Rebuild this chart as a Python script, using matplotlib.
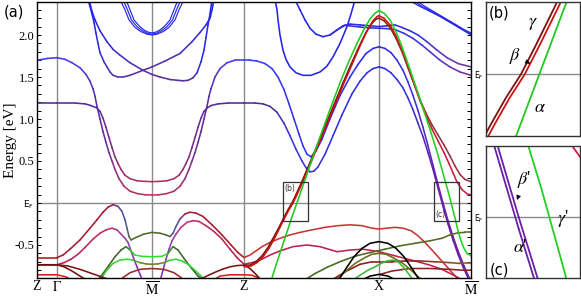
import numpy as np
import matplotlib
matplotlib.use('Agg')
import matplotlib.pyplot as plt
from matplotlib.collections import LineCollection
from matplotlib.colors import LinearSegmentedColormap
from matplotlib.patches import Rectangle
from matplotlib.ticker import MultipleLocator

plt.rcParams['font.family'] = ['Liberation Serif', 'DejaVu Serif']
plt.rcParams['mathtext.fontset'] = 'stix'

# k-path (arbitrary path units) and energy axis
k_pos = [37, 57, 152, 244, 379, 471]
k_lab = ['Z', r'$\Gamma$', r'$\overline{\mathrm{M}}$', 'Z', 'X', r'$\overline{\mathrm{M}}$']
e_ticks = [-0.5, 0.0, 0.5, 1.0, 1.5, 2.0]
e_labels = ['-0.5', r'E$_\mathregular{F}$', '0.5', '1.0', '1.5', '2.0']

# ---- conduction bands, Z-Gamma-M-Z ----
c1_gm_x = [37, 47, 57, 65, 72, 80, 86, 90, 93, 95, 97, 100, 103, 106, 109, 112, 115, 119, 124, 130, 138, 145, 152]
c1_gm_e = [1.70, 1.72, 1.73, 1.71, 1.67, 1.61, 1.53, 1.45, 1.36, 1.27, 1.15, 1.00, 0.85, 0.72, 0.60, 0.50, 0.40, 0.29, 0.20, 0.14, 0.11, 0.098, 0.095]
c2_gm_x = [37, 57, 75, 85, 91, 97, 100, 103, 106, 109, 112, 115, 118, 121, 125, 130, 137, 145, 152]
c2_gm_e = [1.19, 1.19, 1.19, 1.18, 1.16, 1.13, 1.09, 1.01, 0.90, 0.78, 0.66, 0.55, 0.47, 0.40, 0.33, 0.29, 0.265, 0.257, 0.254]
c1_mz_x = [152, 159, 166, 174, 180, 185, 189, 192, 195, 198, 201, 204, 207, 209, 211, 215, 220, 227, 235, 244]
c1_mz_e = [0.095, 0.098, 0.11, 0.14, 0.20, 0.29, 0.40, 0.50, 0.60, 0.72, 0.85, 1.00, 1.15, 1.27, 1.36, 1.50, 1.60, 1.67, 1.70, 1.70]
c2_mz_x = [152, 159, 167, 174, 179, 183, 186, 189, 192, 195, 198, 201, 204, 207, 211, 218, 228, 244]
c2_mz_e = [0.254, 0.257, 0.265, 0.29, 0.33, 0.40, 0.47, 0.55, 0.66, 0.78, 0.90, 1.01, 1.09, 1.13, 1.16, 1.18, 1.19, 1.19]

l1_x = [88, 90, 92, 94, 96, 98, 100, 104, 107, 110, 113, 118, 123, 130, 143, 152, 165, 180, 192, 200, 206, 210, 212, 214]
l1_e = [2.42, 2.34, 2.25, 2.15, 2.02, 1.90, 1.79, 1.68, 1.62, 1.56, 1.52, 1.50, 1.50, 1.52, 1.58, 1.62, 1.69, 1.78, 1.92, 2.03, 2.12, 2.20, 2.30, 2.42]
l2_x = [89, 92, 95, 100, 107, 113, 120, 130, 143, 152, 160, 170, 178, 183, 188, 193, 197, 201, 204, 206, 208, 210, 212]
l2_e = [2.42, 2.28, 2.18, 2.05, 1.92, 1.83, 1.76, 1.67, 1.58, 1.53, 1.50, 1.47, 1.46, 1.455, 1.46, 1.49, 1.55, 1.68, 1.82, 1.97, 2.12, 2.25, 2.42]

pm1_x = [120, 125, 129, 135, 141, 147, 152, 157, 163, 169, 175, 179, 184]
pm1_e = [2.42, 2.30, 2.18, 2.09, 2.04, 2.01, 2.00, 2.01, 2.04, 2.09, 2.18, 2.30, 2.42]
pm2_x = [123, 127.5, 131.5, 137, 142.5, 147.5, 152, 156.5, 161.5, 167, 172.5, 176.5, 181]
pm2_e = [2.42, 2.30, 2.18, 2.10, 2.05, 2.02, 2.01, 2.02, 2.05, 2.10, 2.18, 2.30, 2.42]
pm3_x = [126, 130, 134, 139, 144, 148, 152, 156, 160, 165, 170, 174, 178]
pm3_e = [2.42, 2.30, 2.18, 2.11, 2.06, 2.035, 2.025, 2.035, 2.06, 2.11, 2.18, 2.30, 2.42]

# ---- conduction bands, Z-X-M ----
c1_zx_x = [244, 250, 257, 265, 272, 278, 284, 289, 294, 299, 303, 307, 311, 316, 322, 330, 340, 350, 358, 366, 373, 379]
c1_zx_e = [1.70, 1.70, 1.69, 1.66, 1.60, 1.50, 1.35, 1.18, 1.00, 0.82, 0.68, 0.58, 0.55, 0.62, 0.76, 1.00, 1.28, 1.50, 1.65, 1.78, 1.84, 1.86]
c2_zx_x = [244, 255, 263, 270, 277, 284, 290, 296, 302, 306, 310, 314, 318, 325, 333, 342, 352, 360, 367, 373, 379]
c2_zx_e = [1.19, 1.19, 1.18, 1.15, 1.08, 0.95, 0.80, 0.64, 0.50, 0.42, 0.37, 0.38, 0.43, 0.58, 0.80, 1.05, 1.30, 1.45, 1.55, 1.60, 1.62]
pu_xm_x = [379, 385, 391, 397, 403, 408, 413, 418, 423, 428, 433, 438, 443, 448, 453, 458, 463, 468, 471]
pu_xm_e = [1.86, 1.84, 1.79, 1.70, 1.58, 1.44, 1.28, 1.10, 0.90, 0.68, 0.45, 0.22, 0.0, -0.21, -0.40, -0.57, -0.72, -0.86, -0.93]
pl_xm_x = [379, 385, 391, 397, 403, 408, 413, 418, 423, 428, 433, 438, 443, 448, 453, 458, 463, 468, 470]
pl_xm_e = [1.62, 1.60, 1.55, 1.47, 1.37, 1.25, 1.11, 0.95, 0.79, 0.60, 0.40, 0.18, -0.04, -0.25, -0.44, -0.61, -0.76, -0.89, -0.93]

a_x = [275, 277, 278, 280, 283, 286, 290, 296, 303, 311, 320, 327, 333, 340, 347, 351, 355]
a_e = [2.42, 2.30, 2.18, 2.00, 1.82, 1.71, 1.62, 1.55, 1.52, 1.52, 1.56, 1.63, 1.74, 1.90, 2.10, 2.25, 2.42]
b_x = [295, 300, 305, 310, 316, 323, 330, 337, 343, 350, 360, 370, 379, 387, 395, 402, 410, 418, 427, 437, 447, 458, 471]
b_e = [2.42, 2.30, 2.18, 2.08, 2.01, 1.98, 2.00, 2.06, 2.11, 2.13, 2.12, 2.11, 2.10, 2.11, 2.12, 2.09, 2.05, 2.00, 1.92, 1.82, 1.73, 1.66, 1.62]
b3_x = [330, 337, 345, 360, 370, 379, 388, 396, 404, 413, 422, 430, 440, 450, 460, 471]
b3_e = [2.00, 2.06, 2.115, 2.095, 2.085, 2.08, 2.075, 2.06, 2.02, 1.96, 1.88, 1.80, 1.70, 1.62, 1.56, 1.52]
pr1_x = [409, 414, 420, 430, 440, 450, 460, 471]
pr1_e = [2.42, 2.38, 2.34, 2.28, 2.22, 2.15, 2.08, 2.00]
pr2_x = [412, 417, 422, 432, 442, 452, 462, 471]
pr2_e = [2.42, 2.38, 2.34, 2.28, 2.21, 2.14, 2.07, 2.01]
pr3_x = [415, 420, 425, 435, 445, 455, 464, 471]
pr3_e = [2.42, 2.38, 2.34, 2.27, 2.20, 2.13, 2.065, 2.025]

# steep bands crossing E_F (alpha, beta, gamma)
alpha_zx_x = [271, 276, 281, 286, 291, 296, 301, 306, 312, 318, 325, 333, 341, 349, 357, 364, 370, 375, 379]
alpha_zx_e = [-0.93, -0.74, -0.56, -0.38, -0.20, -0.03, 0.14, 0.31, 0.52, 0.72, 0.95, 1.21, 1.46, 1.69, 1.90, 2.07, 2.19, 2.26, 2.29]
alpha_xm_x = [379, 384, 390, 396, 402, 408, 414, 420, 426, 432, 437, 441, 445, 449, 452, 455, 458, 461, 464, 467, 471]
alpha_xm_e = [2.29, 2.26, 2.18, 2.04, 1.86, 1.66, 1.45, 1.24, 1.02, 0.80, 0.61, 0.44, 0.27, 0.10, -0.04, -0.18, -0.33, -0.45, -0.54, -0.60, -0.63]
beta_zx_x = [244, 250, 256, 262, 268, 274, 279, 284, 288, 292, 296, 301, 306, 312, 319, 327, 335, 343, 351, 359, 366, 372, 376, 379]
beta_zx_e = [-0.74, -0.74, -0.70, -0.63, -0.53, -0.40, -0.29, -0.17, -0.08, 0.0, 0.10, 0.23, 0.37, 0.54, 0.74, 0.97, 1.20, 1.43, 1.65, 1.86, 2.03, 2.14, 2.19, 2.20]
gamma_zx_x = [244, 251, 257, 263, 269, 275, 280, 285, 289, 293, 297, 302, 307, 313, 320, 328, 336, 344, 352, 360, 367, 373, 377, 379]
gamma_zx_e = [-0.76, -0.75, -0.71, -0.64, -0.54, -0.41, -0.29, -0.17, -0.08, 0.0, 0.10, 0.23, 0.37, 0.54, 0.74, 0.97, 1.20, 1.43, 1.65, 1.87, 2.05, 2.17, 2.22, 2.23]
beta_xm_x = [379, 384, 390, 396, 402, 408, 414, 420, 426, 432, 438, 444, 450, 455, 460, 465, 471]
beta_xm_e = [2.20, 2.17, 2.09, 1.96, 1.80, 1.61, 1.42, 1.23, 1.07, 0.93, 0.81, 0.69, 0.56, 0.44, 0.34, 0.28, 0.254]
gamma_xm_x = [379, 384, 390, 396, 402, 408, 414, 420, 426, 432, 438, 444, 449, 453, 457, 462, 467, 471]
gamma_xm_e = [2.23, 2.20, 2.12, 1.99, 1.82, 1.62, 1.42, 1.22, 1.04, 0.88, 0.74, 0.60, 0.47, 0.36, 0.25, 0.16, 0.11, 0.095]

# ---- valence bands ----
v1_x = [37, 57, 63, 70, 80, 90, 97, 103, 108, 113, 118, 122, 125, 127, 129, 131, 136, 144, 152, 160, 166, 170, 173, 176, 180, 185, 190, 196, 203, 212, 222, 231, 238, 244]
v1_e = [-0.65, -0.65, -0.62, -0.55, -0.44, -0.30, -0.20, -0.11, -0.05, -0.02, -0.04, -0.10, -0.20, -0.30, -0.40, -0.44, -0.41, -0.37, -0.35, -0.36, -0.38, -0.40, -0.36, -0.28, -0.19, -0.13, -0.11, -0.12, -0.16, -0.26, -0.38, -0.50, -0.59, -0.65]
v2_x = [37, 57, 64, 71, 78, 85, 93, 100, 106, 112, 117, 121, 125, 128, 131, 134, 137, 140, 143]
v2_e = [-0.735, -0.735, -0.71, -0.67, -0.61, -0.53, -0.43, -0.36, -0.32, -0.30, -0.32, -0.37, -0.42, -0.47, -0.57, -0.67, -0.76, -0.85, -0.93]
v3_x = [160, 163, 166, 169, 172, 176, 181, 187, 193, 199, 206, 214, 222, 230, 237, 244]
v3_e = [-0.93, -0.80, -0.67, -0.55, -0.45, -0.37, -0.29, -0.23, -0.21, -0.22, -0.27, -0.34, -0.43, -0.55, -0.65, -0.73]
g1_x = [97, 103, 109, 115, 121, 126, 130, 135, 142, 152, 162, 168, 173, 178, 184, 191, 198, 205]
g1_e = [-0.93, -0.84, -0.74, -0.64, -0.56, -0.52, -0.56, -0.62, -0.635, -0.64, -0.635, -0.60, -0.52, -0.56, -0.66, -0.77, -0.87, -0.93]
g2_x = [100, 106, 113, 120, 127, 133, 140, 146, 152, 158, 164, 170, 176, 182, 188, 194, 200, 206]
g2_e = [-0.93, -0.81, -0.72, -0.68, -0.67, -0.68, -0.71, -0.725, -0.73, -0.725, -0.71, -0.68, -0.67, -0.69, -0.73, -0.79, -0.86, -0.93]
g3_x = [118, 130, 140, 152, 164, 174, 186]
g3_e = [-0.93, -0.83, -0.79, -0.78, -0.79, -0.83, -0.93]
d1_x = [37, 57, 64, 72, 80, 88]
d1_e = [-0.735, -0.735, -0.76, -0.81, -0.87, -0.93]
d2_x = [57, 68, 80, 92, 104, 114]
d2_e = [-0.735, -0.75, -0.79, -0.84, -0.89, -0.93]
d3_x = [37, 57, 66, 73]
d3_e = [-0.855, -0.855, -0.88, -0.93]
d4_x = [196, 205, 214, 222, 230, 237, 244]
d4_e = [-0.93, -0.88, -0.83, -0.79, -0.76, -0.745, -0.74]
d5_x = [212, 220, 230, 244, 252, 258, 262]
d5_e = [-0.93, -0.87, -0.855, -0.855, -0.86, -0.89, -0.93]
d7_x = [244, 250, 256, 262]
d7_e = [-0.74, -0.78, -0.85, -0.93]
r1_x = [244, 250, 256, 262, 270, 280, 290, 300, 312, 325, 338, 350, 362, 372, 379, 387, 395, 403, 411, 418, 425, 432, 438, 444, 450, 456, 461]
r1_e = [-0.65, -0.62, -0.57, -0.52, -0.47, -0.42, -0.38, -0.35, -0.32, -0.29, -0.27, -0.26, -0.27, -0.30, -0.31, -0.30, -0.29, -0.30, -0.33, -0.39, -0.47, -0.56, -0.64, -0.72, -0.80, -0.88, -0.93]
r2_x = [244, 252, 260, 270, 280, 293, 307, 320, 337, 350, 363, 379, 392, 405, 418, 430, 442, 452, 460, 466]
r2_e = [-0.73, -0.71, -0.68, -0.62, -0.57, -0.52, -0.50, -0.52, -0.58, -0.56, -0.55, -0.58, -0.62, -0.66, -0.70, -0.74, -0.79, -0.85, -0.90, -0.93]
bk1_x = [338, 346, 354, 362, 370, 379, 388, 396, 404, 412, 420]
bk1_e = [-0.93, -0.78, -0.64, -0.54, -0.48, -0.46, -0.48, -0.54, -0.64, -0.78, -0.93]
bk2_x = [360, 370, 379, 388, 398]
bk2_e = [-0.93, -0.87, -0.85, -0.87, -0.93]
o1_x = [303, 315, 328, 342, 356, 370, 385, 400, 415, 430, 442, 450, 458, 465, 471]
o1_e = [-0.93, -0.84, -0.76, -0.69, -0.63, -0.59, -0.55, -0.51, -0.48, -0.45, -0.42, -0.38, -0.355, -0.35, -0.35]
o2_x = [335, 345, 355, 365, 372, 379, 386, 393, 403, 413, 423]
o2_e = [-0.93, -0.82, -0.72, -0.65, -0.61, -0.60, -0.61, -0.65, -0.72, -0.82, -0.93]
g4_x = [352, 360, 368, 375, 381, 387, 393, 398, 404, 409, 414]
g4_e = [-0.93, -0.86, -0.80, -0.76, -0.72, -0.69, -0.68, -0.70, -0.77, -0.85, -0.93]
drx_x = [330, 345, 360, 372, 379, 392, 405, 420, 435, 450, 460, 471]
drx_e = [-0.93, -0.82, -0.73, -0.70, -0.70, -0.70, -0.69, -0.69, -0.70, -0.71, -0.72, -0.72]
br2_x = [380, 392, 410, 430, 450, 462, 471]
br2_e = [-0.85, -0.81, -0.78, -0.78, -0.79, -0.80, -0.80]

BLUE = '#2424ee'
bands = [
    (c1_gm_x, c1_gm_e, [(37, '#3b3bf0'), (80, '#4a3ae0'), (100, '#5a2ca8'), (125, '#a8306a'), (152, '#c8305e')]),
    (c2_gm_x, c2_gm_e, [(37, '#4d2a90'), (97, '#5a2ca0'), (125, '#a0306a'), (152, '#b8305e')]),
    (c1_mz_x, c1_mz_e, [(152, '#c8305e'), (179, '#a8306a'), (204, '#5a2ca8'), (224, '#4a3ae0'), (244, '#3b3bf0')]),
    (c2_mz_x, c2_mz_e, [(152, '#b8305e'), (179, '#a0306a'), (207, '#5a2ca0'), (244, '#4d2a90')]),
    (l1_x, l1_e, [(88, BLUE), (100, '#3030e0'), (113, '#5a30a8'), (152, '#5a2fa0'), (180, '#4a30c0'), (214, BLUE)]),
    (l2_x, l2_e, [(89, BLUE), (120, '#4030c8'), (152, '#5a2fa0'), (188, '#5a2fa0'), (200, '#3030e0'), (212, BLUE)]),
    (pm1_x, pm1_e, BLUE), (pm2_x, pm2_e, BLUE), (pm3_x, pm3_e, BLUE),
    (c1_zx_x, c1_zx_e, [(244, '#3b3bf0'), (379, '#2a2af0')]),
    (c2_zx_x, c2_zx_e, [(244, '#4d2a90'), (265, '#4d2a90'), (290, '#3a36d8'), (379, '#2a2aee')]),
    (pu_xm_x, pu_xm_e, [(379, '#2a2af0'), (410, '#3a30d8'), (440, '#6a20a8'), (471, '#6a20a0')]),
    (pl_xm_x, pl_xm_e, [(379, '#2a2af0'), (410, '#3a30d8'), (440, '#6a20a8'), (470, '#6a20a0')]),
    (a_x, a_e, BLUE),
    (b_x, b_e, [(295, BLUE), (420, '#3030e0'), (450, '#6a30b0'), (471, '#7030a0')]),
    (b3_x, b3_e, [(330, '#3030d0'), (420, '#3535d5'), (450, '#6a30b0'), (471, '#7a30a0')]),
    (pr1_x, pr1_e, BLUE), (pr2_x, pr2_e, BLUE), (pr3_x, pr3_e, BLUE),
    (v1_x, v1_e, [(37, '#a81c1c'), (113, '#a01a3a'), (124, '#4a5ab8'), (131, '#4f6a2a'), (168, '#4f6a2a'), (176, '#4a5ab8'), (188, '#a01a3a'), (244, '#a81c1c')]),
    (v2_x, v2_e, [(37, '#7a1414'), (57, '#b0204a'), (112, '#c0306a'), (126, '#9040b0'), (143, '#7a30c8')]),
    (v3_x, v3_e, [(160, '#7a30c8'), (170, '#9040b0'), (185, '#c0306a'), (244, '#b0204a')]),
    (g1_x, g1_e, [(97, '#4a5a2a'), (126, '#3a6a2a'), (134, '#30e030'), (166, '#30e030'), (173, '#3a6a2a'), (205, '#4a5a2a')]),
    (g2_x, g2_e, [(100, '#30c830'), (130, '#30e030'), (141, '#7a7a30'), (163, '#7a7a30'), (172, '#30e030'), (206, '#30c830')]),
    (g3_x, g3_e, '#9a2a2a'),
    (d1_x, d1_e, '#6b1010'), (d2_x, d2_e, '#7a1414'), (d3_x, d3_e, '#dd1a1a'),
    (d4_x, d4_e, '#7a1414'), (d5_x, d5_e, '#dd1a1a'), (d7_x, d7_e, '#6b1010'),
    (r1_x, r1_e, '#cc3434'),
    (r2_x, r2_e, '#c02050'),
    (drx_x, drx_e, [(330, '#8b1a1a'), (400, '#8b1a1a'), (471, '#8a5a2a')]),
    (br2_x, br2_e, '#8b2020'),
    (o1_x, o1_e, [(303, '#3a6a1a'), (400, '#4f6a20'), (471, '#5a6a20')]),
    (o2_x, o2_e, '#6b6b1a'),
    (g4_x, g4_e, '#33bb33'),
    (bk1_x, bk1_e, 'black'), (bk2_x, bk2_e, 'black'),
    (beta_zx_x, beta_zx_e, '#7a1010'),
    (gamma_zx_x, gamma_zx_e, '#cc1111'),
    (beta_xm_x, beta_xm_e, [(379, '#8b1a1a'), (420, '#8b3a2a'), (471, '#a03050')]),
    (gamma_xm_x, gamma_xm_e, [(379, '#cc1111'), (430, '#cc1a30'), (471, '#cc2050')]),
    (alpha_zx_x, alpha_zx_e, '#22c822'),
    (alpha_xm_x, alpha_xm_e, '#22d022'),
]
thin = {id(pm1_x), id(pm2_x), id(pm3_x), id(pr1_x), id(pr2_x), id(pr3_x)}


def draw_band(ax, x, e, col, lw):
    if isinstance(col, str):
        ax.plot(x, e, color=col, lw=lw, solid_joinstyle='round', solid_capstyle='round')
        return
    x = np.asarray(x, float)
    e = np.asarray(e, float)
    x0, x1 = x[0], x[-1]
    cmap = LinearSegmentedColormap.from_list('b', [((sx - x0) / (x1 - x0), c) for sx, c in col])
    pts = np.column_stack([x, e])
    segs = np.stack([pts[:-1], pts[1:]], axis=1)
    mid = (x[:-1] + x[1:]) / 2
    lc = LineCollection(segs, colors=cmap((mid - x0) / (x1 - x0)), linewidths=lw,
                        capstyle='round', joinstyle='round')
    ax.add_collection(lc)


fig = plt.figure(figsize=(5.81, 2.97), dpi=100)
ax = fig.add_axes([37 / 581, 19 / 297, 434 / 581, 276 / 297])

for kp in k_pos[1:-1]:
    ax.axvline(kp, color='#8a8a8a', lw=1.0, zorder=0)
ax.axhline(0, color='#8a8a8a', lw=1.0, zorder=0)
for x, e, col in bands:
    draw_band(ax, x, e, col, 0.85 if id(x) in thin else 1.15)

ax.set_xlim(37, 471)
ax.set_ylim(-0.893, 2.393)
ax.set_xticks(k_pos, k_lab, fontsize=10)
ax.tick_params(axis='x', length=0, pad=1.5)
ax.set_yticks(e_ticks, e_labels, fontsize=9)
ax.yaxis.set_minor_locator(MultipleLocator(0.1))
ax.tick_params(axis='y', which='both', direction='in', right=True, length=3, width=0.7, pad=2)
for t in ax.get_yticklabels():
    if t.get_text().startswith('E'):
        t.set_fontfamily('DejaVu Sans')
        t.set_fontsize(6.5)
ax.set_ylabel('Energy [eV]', fontsize=11)
ax.yaxis.set_label_coords(-0.045, 0.5)
for s in ax.spines.values():
    s.set_linewidth(1.0)

# zoom boxes
box_b = (282.7, 307.7)
box_c = (434.3, 459.3)
e_win = (-0.21, 0.246)
for (bx0, bx1), tag, ty, va in [(box_b, '(b)', e_win[1] - 0.02, 'top'), (box_c, '(c)', e_win[0] + 0.02, 'bottom')]:
    ax.add_patch(Rectangle((bx0, e_win[0]), bx1 - bx0, e_win[1] - e_win[0], fill=False, ec='#333333', lw=0.9, zorder=5))
    ax.text(bx0 + 1.5, ty, tag, fontsize=5.5, family='DejaVu Sans', va=va, ha='left', color='#333333')

fig.text(4 / 581, 1 - 12 / 297, '(a)', fontsize=10.5, family='DejaVu Sans', va='center', ha='left')

# insets
axb = fig.add_axes([486 / 581, 161 / 297, 94 / 581, 134 / 297])
axc = fig.add_axes([486 / 581, 19 / 297, 94 / 581, 132 / 297])
for iax, (bx0, bx1) in [(axb, box_b), (axc, box_c)]:
    iax.axhline(0, color='#8a8a8a', lw=1.0, zorder=0)
    for x, e, col in bands:
        draw_band(iax, x, e, col, 1.3)
    iax.set_xlim(bx0, bx1)
    iax.set_ylim(*e_win)
    iax.set_xticks([])
    iax.set_yticks([0.0], [r'E$_\mathregular{F}$'])
    iax.tick_params(axis='y', length=0, pad=2, labelsize=5.5)
    for t in iax.get_yticklabels():
        t.set_fontfamily('DejaVu Sans')
    for s in iax.spines.values():
        s.set_linewidth(1.0)
        s.set_color('#333333')

axb.text(0.03, 0.92, '(b)', transform=axb.transAxes, fontsize=10.5, family='DejaVu Sans', va='center')
axc.text(0.04, 0.06, '(c)', transform=axc.transAxes, fontsize=10.5, family='DejaVu Sans', va='center')
axb.text(0.50, 0.84, r'$\gamma$', transform=axb.transAxes, fontsize=13, ha='center', va='center')
axb.text(0.57, 0.21, r'$\alpha$', transform=axb.transAxes, fontsize=13, ha='center', va='center')
axb.annotate(r'$\beta$', xy=(0.47, 0.54), xytext=(0.31, 0.60), xycoords='axes fraction',
             textcoords='axes fraction', fontsize=13, ha='center', va='center',
             arrowprops=dict(arrowstyle='-|>', lw=0.8, color='black', mutation_scale=6, shrinkA=4, shrinkB=0))
axc.text(0.82, 0.45, r"$\gamma$'", transform=axc.transAxes, fontsize=13, ha='center', va='center')
axc.text(0.36, 0.23, r"$\alpha$'", transform=axc.transAxes, fontsize=13, ha='center', va='center')
axc.annotate(r"$\beta$'", xy=(0.33, 0.59), xytext=(0.41, 0.75), xycoords='axes fraction',
             textcoords='axes fraction', fontsize=13, ha='center', va='center',
             arrowprops=dict(arrowstyle='-|>', lw=0.8, color='black', mutation_scale=6, shrinkA=4, shrinkB=0))

fig.savefig('out.png', dpi=100)
